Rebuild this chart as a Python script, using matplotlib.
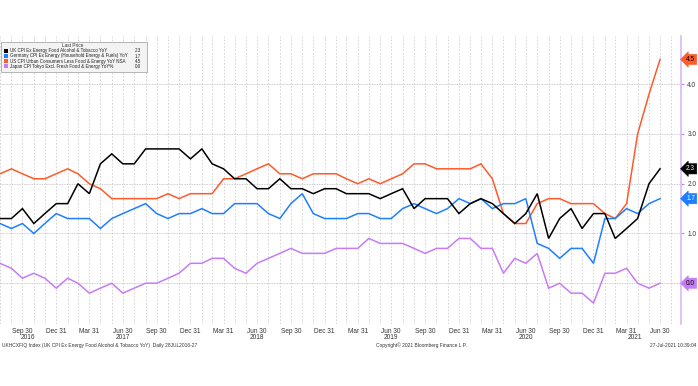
import numpy as np
import matplotlib
matplotlib.use('Agg')
import matplotlib.pyplot as plt
import matplotlib.transforms as mtransforms
from matplotlib.patches import Rectangle

plt.rcParams['font.family'] = ['Liberation Sans', 'DejaVu Sans']

# month-end dates, Jul 2016 .. Jun 2021
dates = np.arange('2016-08', '2021-08', dtype='datetime64[M]').astype('datetime64[D]') - np.timedelta64(1, 'D')

uk = [1.3, 1.3, 1.5, 1.2, 1.4, 1.6,
      1.6, 2.0, 1.8, 2.4, 2.6, 2.4, 2.4, 2.7, 2.7, 2.7, 2.7, 2.5,
      2.7, 2.4, 2.3, 2.1, 2.1, 1.9, 1.9, 2.1, 1.9, 1.9, 1.8, 1.9,
      1.9, 1.8, 1.8, 1.8, 1.7, 1.8, 1.9, 1.5, 1.7, 1.7, 1.7, 1.4,
      1.6, 1.7, 1.6, 1.4, 1.2, 1.4, 1.8, 0.9, 1.3, 1.5, 1.1, 1.4,
      1.4, 0.9, 1.1, 1.3, 2.0, 2.3]
germany = [1.2, 1.1, 1.2, 1.0, 1.2, 1.4,
           1.3, 1.3, 1.3, 1.1, 1.3, 1.4, 1.5, 1.6, 1.4, 1.3, 1.4, 1.4,
           1.5, 1.4, 1.4, 1.6, 1.6, 1.6, 1.4, 1.3, 1.6, 1.8, 1.4, 1.3,
           1.3, 1.3, 1.4, 1.4, 1.3, 1.3, 1.5, 1.6, 1.5, 1.4, 1.5, 1.7,
           1.6, 1.7, 1.5, 1.6, 1.6, 1.7, 0.8, 0.7, 0.5, 0.7, 0.7, 0.4,
           1.3, 1.3, 1.5, 1.4, 1.6, 1.7]
us = [2.2, 2.3, 2.2, 2.1, 2.1, 2.2,
      2.3, 2.2, 2.0, 1.9, 1.7, 1.7, 1.7, 1.7, 1.7, 1.8, 1.7, 1.8,
      1.8, 1.8, 2.1, 2.1, 2.2, 2.3, 2.4, 2.2, 2.2, 2.1, 2.2, 2.2,
      2.2, 2.1, 2.0, 2.1, 2.0, 2.1, 2.2, 2.4, 2.4, 2.3, 2.3, 2.3,
      2.3, 2.4, 2.1, 1.4, 1.2, 1.2, 1.6, 1.7, 1.7, 1.6, 1.6, 1.6,
      1.4, 1.3, 1.6, 3.0, 3.8, 4.5]
japan = [0.4, 0.3, 0.1, 0.2, 0.1, -0.1,
         0.1, 0.0, -0.2, -0.1, 0.0, -0.2, -0.1, 0.0, 0.0, 0.1, 0.2, 0.4,
         0.4, 0.5, 0.5, 0.3, 0.2, 0.4, 0.5, 0.6, 0.7, 0.6, 0.6, 0.6,
         0.7, 0.7, 0.7, 0.9, 0.8, 0.8, 0.8, 0.7, 0.6, 0.7, 0.7, 0.9,
         0.9, 0.7, 0.7, 0.2, 0.5, 0.4, 0.6, -0.1, 0.0, -0.2, -0.2, -0.4,
         0.2, 0.2, 0.3, 0.0, -0.1, 0.0]

names = ['UK CPI Ex Energy Food Alcohol & Tobacco YoY',
         'Germany CPI Ex Energy (Household Energy & Fuels) YoY',
         'US CPI Urban Consumers Less Food & Energy YoY NSA',
         'Japan CPI Tokyo Excl. Fresh Food & Energy YoY%']
series = [uk, germany, us, japan]
colors = ['#000000', '#1f7eff', '#ff5a2a', '#c77cf6']
badge_text = ['white', 'white', 'black', 'black']

tick_dates = ['2016-09-30', '2016-12-31', '2017-03-31', '2017-06-30', '2017-09-30', '2017-12-31',
              '2018-03-31', '2018-06-30', '2018-09-30', '2018-12-31', '2019-03-31', '2019-06-30',
              '2019-09-30', '2019-12-31', '2020-03-31', '2020-06-30', '2020-09-30', '2020-12-31',
              '2021-03-31', '2021-06-30']
tick_labels = ['Sep 30', 'Dec 31', 'Mar 31', 'Jun 30'] * 5
year_dates = ['2016-10-14', '2017-06-30', '2018-06-30', '2019-06-30', '2020-06-30', '2021-04-24']
year_labels = ['2016', '2017', '2018', '2019', '2020', '2021']

W, H = 698, 386
fig = plt.figure(figsize=(W / 100, H / 100), dpi=100)

def fx(x):
    return x / W

def fy(y):
    return 1 - y / H

ax = fig.add_axes([0, fy(324), fx(681), fy(36) - fy(324)])

for s, c in reversed(list(zip(series, colors))):
    ax.plot(dates, s, color=c, lw=1.1, solid_joinstyle='miter')

ax.set_xlim(np.datetime64('2016-07-31'), np.datetime64('2021-08-26'))
ax.set_ylim(-0.82, 4.97)

# grid: monthly verticals, unit horizontals
month_grid = np.arange('2016-08', '2021-09', dtype='datetime64[M]').astype('datetime64[D]') - np.timedelta64(1, 'D')
ax.set_xticks(np.array(tick_dates, dtype='datetime64[D]'))
ax.set_xticklabels(tick_labels)
ax.set_xticks(month_grid, minor=True)
ax.grid(axis='x', which='both', color='#cfcfcf', lw=0.6, linestyle=(0, (2, 2)))
ax.set_yticks([0, 1, 2, 3, 4])
ax.set_yticklabels(['0.0', '1.0', '2.0', '3.0', '4.0'])
ax.grid(axis='y', color='#bdbdbd', lw=0.6, linestyle=(0, (1, 1)))
ax.set_axisbelow(True)

ax.yaxis.tick_right()
ax.tick_params(axis='y', length=2, width=0.8, color='#c77cf6', pad=2.5,
               labelsize=4.7, labelcolor='#333333')
ax.tick_params(axis='x', which='both', length=0, pad=3, labelsize=4.7, labelcolor='#333333')
for sp in ['left', 'top', 'bottom']:
    ax.spines[sp].set_visible(False)
ax.spines['right'].set_color('#dcb6f8')
ax.spines['right'].set_linewidth(1.2)

blend = mtransforms.blended_transform_factory(ax.transData, ax.transAxes)
for d, lab in zip(year_dates, year_labels):
    ax.text(np.datetime64(d), -0.048, lab, transform=blend, ha='center', va='center',
            fontsize=4.7, color='#333333')

# last value tags on the right axis
tag = mtransforms.blended_transform_factory(ax.transAxes, ax.transData)
for s, c, tc in zip(series, colors, badge_text):
    ax.text(1.0075, s[-1], f'{s[-1]:.1f}', transform=tag, ha='left', va='center',
            fontsize=4.7, color=tc, clip_on=False, zorder=5,
            bbox=dict(boxstyle='larrow,pad=0.25', fc=c, ec=c, lw=0.4))

# legend box
fig.patches.append(Rectangle((fx(1), fy(72)), fx(146), fy(42) - fy(72), transform=fig.transFigure,
                             fc='#f3f3f3', ec='#9a9a9a', lw=0.5, zorder=10))
fig.text(fx(73), fy(45.5), 'Last Price', ha='center', va='center', fontsize=3.4, color='#333333', zorder=11)
for k, (n, s, c) in enumerate(zip(names, series, colors)):
    yy = 50.8 + k * 5.2
    fig.patches.append(Rectangle((fx(3.5), fy(yy + 2)), fx(4), fy(yy - 2) - fy(yy + 2),
                                 transform=fig.transFigure, fc=c, ec='none', zorder=11))
    fig.text(fx(10), fy(yy), n, ha='left', va='center', fontsize=3.25, color='#222222', zorder=11)
    fig.text(fx(141), fy(yy), f'{s[-1]:.1f}', ha='right', va='center', fontsize=3.25, color='#222222', zorder=11)

# footer
fig.text(fx(2), fy(345.5), 'UKHCXFIQ Index (UK CPI Ex Energy Food Alcohol & Tobacco YoY)  Daily 28JUL2016-27',
         ha='left', va='center', fontsize=3.5, color='#333333')
fig.text(fx(376), fy(345.5), 'Copyright\u00a9 2021 Bloomberg Finance L.P.',
         ha='left', va='center', fontsize=3.5, color='#333333')
fig.text(fx(697), fy(345.5), '27-Jul-2021 10:39:04', ha='right', va='center', fontsize=3.5, color='#333333')

fig.savefig('out.png', dpi=100)
